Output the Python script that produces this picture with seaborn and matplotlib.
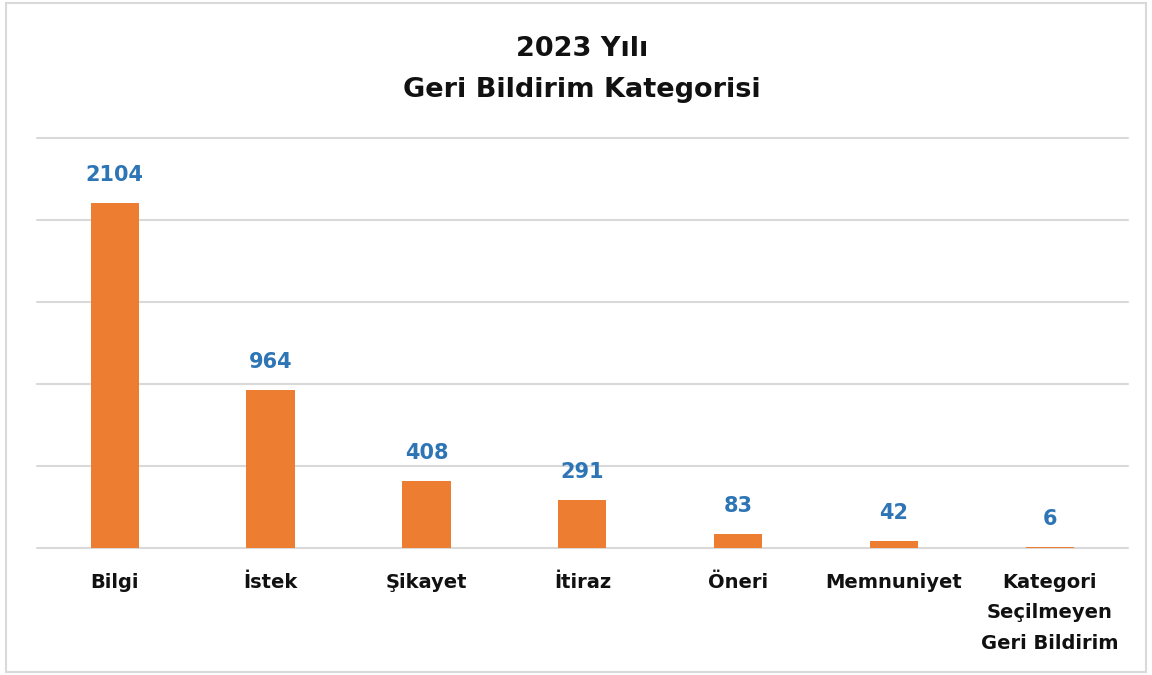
import matplotlib
matplotlib.use("Agg")
import matplotlib.pyplot as plt
import seaborn as sns
import pandas as pd
from matplotlib.patches import Rectangle

categories = ["Bilgi", "İstek", "Şikayet", "İtiraz", "Öneri", "Memnuniyet",
              "Kategori\nSeçilmeyen\nGeri Bildirim"]
values = [2104, 964, 408, 291, 83, 42, 6]
title_text = "2023 Yılı\nGeri Bildirim Kategorisi"

sns.set_theme(style="white")
plt.rcParams['font.family'] = ['DejaVu Sans']

df = pd.DataFrame({"cat": categories, "val": values})

fig = plt.figure(figsize=(11.52, 6.75), dpi=100)
ax = fig.add_axes([0.032, 0.188, 0.947, 0.608])

sns.barplot(data=df, x="cat", y="val", color="#ED7D31", width=0.31,
            saturation=1, ax=ax, zorder=3, linewidth=0)

ax.set_ylim(0, 2500)
ax.set_yticks(range(0, 2501, 500))
ax.yaxis.grid(True, color="#D9D9D9", linewidth=1.5, zorder=0)
for gl in ax.get_ygridlines():
    gl.set_clip_on(False)
ax.set_yticklabels([])
ax.tick_params(axis="y", length=0)
ax.tick_params(axis="x", length=0, pad=18)
for s in ax.spines.values():
    s.set_visible(False)
ax.set_xlabel("")
ax.set_ylabel("")
ax.set_xlim(-0.5, len(categories) - 0.5)

for lbl in ax.get_xticklabels():
    lbl.set_fontsize(14)
    lbl.set_fontweight("bold")
    lbl.set_color("#111111")
    lbl.set_linespacing(1.75)
    lbl.set_verticalalignment("top")

for i, v in enumerate(values):
    ax.annotate(str(v), (i, v), xytext=(0, 13), textcoords="offset points",
                ha="center", va="bottom", fontsize=15, fontweight="bold",
                color="#2E75B6")

fig.text(0.505, 0.897, title_text, ha="center", va="center", fontsize=19.5,
         fontweight="bold", color="#111111", linespacing=1.75)

fig.patches.append(Rectangle((0.005, 0.005), 0.99, 0.99, transform=fig.transFigure,
                             fill=False, edgecolor="#D9D9D9", linewidth=1.5))

fig.savefig("out.png", dpi=100, facecolor="white")
